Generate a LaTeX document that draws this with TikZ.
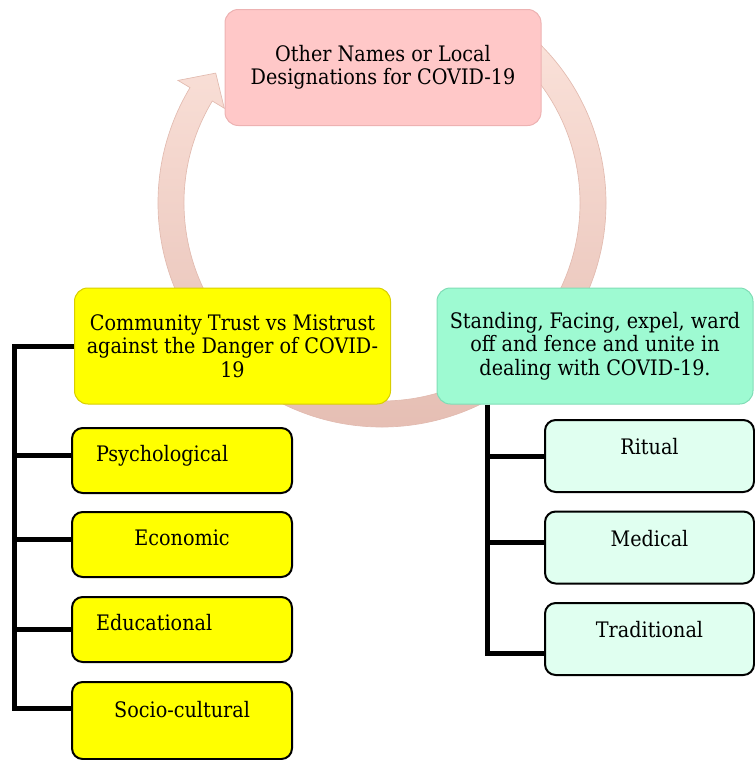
\documentclass[tikz,border=0pt]{standalone}
\usepackage{fontspec}
\setmainfont{DejaVu Serif Condensed}
\usetikzlibrary{calc}
\definecolor{pinkbox}{HTML}{FFC8C8}
\definecolor{pinkedge}{HTML}{EDB2B2}
\definecolor{ybox}{HTML}{FFFF00}
\definecolor{yellowedge}{HTML}{D8CE00}
\definecolor{greenbox}{HTML}{9EFAD2}
\definecolor{greenedge}{HTML}{80DDB6}
\definecolor{mint}{HTML}{E0FFF0}
\definecolor{ringtop}{HTML}{FBE2DA}
\definecolor{ringbot}{HTML}{E4BCB1}
\definecolor{ringedge}{HTML}{E2BBB0}
\newcommand{\boxfont}{\fontsize{16}{17.5}\selectfont}
\tikzstyle{hd}=[rectangle, rounded corners=10pt, line width=0.75pt, align=center,
minimum width=237pt, minimum height=87pt, font=\boxfont]
\tikzstyle{ys}=[rectangle, rounded corners=8pt, draw=black, fill=ybox, line width=1.5pt,
text width=129pt, inner xsep=18pt, align=center, minimum height=48.75pt,
text height=12pt, text depth=11pt, font=\boxfont]
\tikzstyle{gs}=[rectangle, rounded corners=8pt, draw=black, fill=mint, line width=1.5pt,
minimum width=156.75pt, minimum height=54pt, align=center,
text height=12pt, text depth=14pt, font=\boxfont]
\tikzstyle{br}=[draw=black, line width=3.75pt]
\tikzstyle{ring}=[top color=ringtop, bottom color=ringbot, draw=ringedge, line width=0.5pt]

\begin{document}
\begin{tikzpicture}[x=0.75pt,y=-0.75pt]
\useasboundingbox (0,0) rectangle (755,760);
\coordinate (c) at (382,203);
% circular arrow behind the boxes
\path[ring] ($(c)+(-52:224)$) arc[start angle=-52,end angle=211,radius=224]
  -- ($(c)+(211:238)$) -- ($(c)+(218:211)$) -- ($(c)+(211:184)$)
  -- ($(c)+(211:198)$) arc[start angle=211,end angle=-52,radius=198] -- cycle;

\node[hd, fill=pinkbox, draw=pinkedge] (names) at (383,67.5)
  {Other Names or Local\\Designations for COVID-19};
\node[hd, fill=ybox, draw=yellowedge] (trust) at (232.5,346)
  {Community Trust vs Mistrust\\against the Danger of COVID-\\19};
\node[hd, fill=greenbox, draw=greenedge] (unite) at (595,346)
  {Standing, Facing, expel, ward\\off and fence and unite in\\dealing with COVID-19.};

\node[ys, align=left] (psych) at (182,460.5) {Psychological};
\node[ys] (econ) at (182,544.5) {Economic};
\node[ys, align=left] (edu) at (182,629.5) {Educational};
\node[ys, minimum height=57.75pt, text depth=17pt] (socio) at (182,720.5) {Socio-cultural};

\node[gs] (ritual) at (649.5,456) {Ritual};
\node[gs] (medical) at (649.5,547.5) {Medical};
\node[gs] (trad) at (649.5,639) {Traditional};

\coordinate (lb) at (14,708);
\coordinate (rb) at (487,653);
\draw[br] (trust.west) -| (lb) -- (lb -| socio.west);
\foreach \n/\s in {psych/4pt, econ/4pt, edu/0pt}
  \draw[br] ([yshift=\s]\n.west) -- ++(-58,0);
\draw[br] (rb |- unite.south) -- (rb) -- (rb -| trad.west);
\foreach \n/\s in {ritual/0pt, medical/4pt}
  \draw[br] ([yshift=\s]\n.west) -- ++(-58,0);
\end{tikzpicture}
\end{document}
